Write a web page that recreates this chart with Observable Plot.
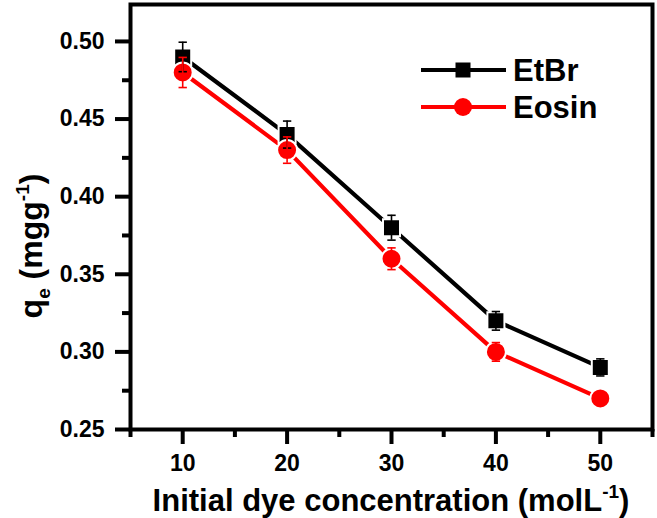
<!DOCTYPE html>
<html>
<head>
<meta charset="utf-8">
<script src="https://cdn.jsdelivr.net/npm/d3@7"></script>
<script src="https://cdn.jsdelivr.net/npm/@observablehq/plot@0.6"></script>
<style>
  html, body { margin: 0; padding: 0; background: #ffffff; }
  #chart { width: 657px; height: 518px; }
</style>
</head>
<body>
<div id="chart"></div>
<script>
// ---- data ----
const concentrations = [10, 20, 30, 40, 50];
const etbrValues = [0.49, 0.44, 0.38, 0.32, 0.29];
const etbrErrors = [0.0095, 0.0087, 0.008, 0.006, 0.0055];
const eosinValues = [0.48, 0.43, 0.36, 0.30, 0.27];
const eosinErrors = [0.0097, 0.0085, 0.007, 0.006, 0.004];
const seriesNames = ["EtBr", "Eosin"];
const seriesColors = ["#000000", "#ff0000"];
const seriesSymbols = ["square", "circle"];
const xMajorTicks = [10, 20, 30, 40, 50];
const xMinorTicks = [5, 15, 25, 35, 45, 55];
const yMajorTicks = [0.25, 0.30, 0.35, 0.40, 0.45, 0.50];
const yMinorTicks = [0.275, 0.325, 0.375, 0.425, 0.475];

const FONT = '"Liberation Sans", Arial, Helvetica, sans-serif';

const etRows = concentrations.map((c, i) => ({series: "EtBr", x: c, y: etbrValues[i], err: etbrErrors[i]}));
const eoRows = concentrations.map((c, i) => ({series: "Eosin", x: c, y: eosinValues[i], err: eosinErrors[i]}));
const capHalf = 0.4;

function errorMarks(rows, color) {
  return [
    Plot.ruleX(rows, {x: "x", y1: d => d.y - d.err, y2: d => d.y + d.err, stroke: color, strokeWidth: 1.6}),
    Plot.link(rows, {x1: d => d.x - capHalf, x2: d => d.x + capHalf, y1: d => d.y + d.err, y2: d => d.y + d.err, stroke: color, strokeWidth: 1.6}),
    Plot.link(rows, {x1: d => d.x - capHalf, x2: d => d.x + capHalf, y1: d => d.y - d.err, y2: d => d.y - d.err, stroke: color, strokeWidth: 1.6})
  ];
}

const plot = Plot.plot({
  width: 657,
  height: 518,
  marginLeft: 130,
  marginRight: 5,
  marginTop: 4,
  marginBottom: 89,
  style: {fontFamily: FONT, background: "#ffffff", color: "#000000", overflow: "visible"},
  x: {domain: [5, 55]},
  y: {domain: [0.25, 0.5238]},
  marks: [
    Plot.line(etRows, {x: "x", y: "y", stroke: seriesColors[0], strokeWidth: 4.2}),
    Plot.line(eoRows, {x: "x", y: "y", stroke: seriesColors[1], strokeWidth: 4.2}),
    Plot.dot(etRows, {x: "x", y: "y", symbol: seriesSymbols[0], r: 9.6, fill: seriesColors[0], stroke: "#ffffff", strokeWidth: 2}),
    Plot.dot(eoRows, {x: "x", y: "y", symbol: seriesSymbols[1], r: 10, fill: seriesColors[1], stroke: "#ffffff", strokeWidth: 2}),
    ...errorMarks(etRows, seriesColors[0]),
    ...errorMarks(eoRows, seriesColors[1]),
    Plot.frame({stroke: "#000000", strokeWidth: 4}),
    Plot.axisX(xMajorTicks, {tickSize: 15, tickPadding: 10, strokeWidth: 4, fontSize: 23, fontWeight: "bold", label: null}),
    Plot.axisX(xMinorTicks, {tickSize: 8, strokeWidth: 4, tickFormat: () => "", label: null}),
    Plot.axisY(yMajorTicks, {tickSize: 15, tickPadding: 11, strokeWidth: 4, fontSize: 23, fontWeight: "bold", tickFormat: d3.format(".2f"), label: null}),
    Plot.axisY(yMinorTicks, {tickSize: 8, strokeWidth: 4, tickFormat: () => "", label: null})
  ]
});

document.getElementById("chart").appendChild(plot);

// ---- axis titles ----
const svg = d3.select(plot);
const xr = plot.scale("x").range;

const xt = svg.append("text")
  .attr("x", (xr[0] + xr[1]) / 2)
  .attr("y", 511)
  .attr("text-anchor", "middle")
  .attr("font-family", FONT)
  .attr("font-size", 31)
  .attr("font-weight", "bold")
  .attr("fill", "#000");
xt.append("tspan").text("Initial dye concentration (molL");
xt.append("tspan").attr("dy", -13).attr("font-size", 19).text("-1");
xt.append("tspan").attr("dy", 13).text(")");

const yt = svg.append("text")
  .attr("transform", `translate(42,246) rotate(-90)`)
  .attr("text-anchor", "middle")
  .attr("font-family", FONT)
  .attr("font-size", 32)
  .attr("font-weight", "bold")
  .attr("fill", "#000");
yt.append("tspan").text("q");
yt.append("tspan").attr("dy", 8).attr("font-size", 19).text("e");
yt.append("tspan").attr("dy", -8).text(" (mgg");
yt.append("tspan").attr("dy", -13).attr("font-size", 19).text("-1");
yt.append("tspan").attr("dy", 13).text(")");

// ---- legend ----
const legend = svg.append("g").attr("font-family", FONT);
seriesNames.forEach((name, i) => {
  const cy = 70 + i * 37;
  const g = legend.append("g");
  g.append("line").attr("x1", 421).attr("x2", 506).attr("y1", cy).attr("y2", cy)
    .attr("stroke", seriesColors[i]).attr("stroke-width", 4.2);
  if (seriesSymbols[i] === "square") {
    g.append("rect").attr("x", 463 - 7.5).attr("y", cy - 7.5).attr("width", 15).attr("height", 15)
      .attr("fill", seriesColors[i]);
  } else {
    g.append("circle").attr("cx", 463).attr("cy", cy).attr("r", 9).attr("fill", seriesColors[i]);
  }
  g.append("text").attr("x", 513).attr("y", cy + 11)
    .attr("text-anchor", "start")
    .attr("font-size", 31).attr("font-weight", "bold").attr("fill", "#000").text(name);
});
</script>
</body>
</html>
